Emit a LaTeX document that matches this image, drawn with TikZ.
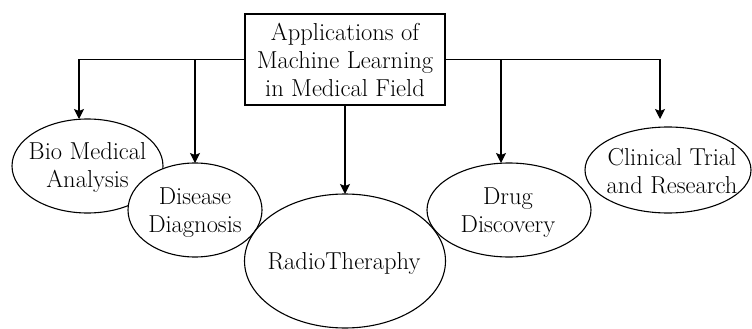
\documentclass[tikz,border=0pt]{standalone}
\usepackage{tikz}
\usetikzlibrary{shapes.geometric,arrows.meta,positioning}
\definecolor{MLInk} {HTML}{000000}
\definecolor{MLText}{HTML}{000000}

\begin{document}
\begin{tikzpicture}[x=1pt,y=-1pt,
    every node/.style={font=\fontsize{24.5}{28}\selectfont,text=MLText},
    rootbox/.style={draw=MLInk,line width=1.1pt,minimum width=200pt,minimum height=91pt,inner sep=0pt},
    oval/.style={draw=MLInk,line width=1.1pt,ellipse,inner sep=0pt,outer sep=0pt},
    ovaltext/.style={align=center,inner sep=0pt},
    arr/.style={draw=MLInk,line width=1.1pt,-{Stealth[length=10pt,width=10pt,inset=2pt]}}]
    \useasboundingbox (0,0) rectangle (752,329);

    % Ellipses
    \node[oval,fill=white,minimum width=151pt,minimum height=94pt]  (bio)  at (87.5,166) {};
    \node[oval,fill=white,minimum width=134pt,minimum height=94pt]  (dis)  at (195,210)  {};
    \node[oval,fill=white,minimum width=201pt,minimum height=134pt] (rad)  at (345,261)  {};
    \node[oval,minimum width=164pt,minimum height=94pt]  (drug) at (509,210)  {};
    \node[oval,minimum width=166pt,minimum height=86pt]  (clin) at (668,170)  {};

    \node[ovaltext] (biotxt)  at (87.5,167) {Bio Medical\\Analysis};
    \node[ovaltext] (distxt)  at (195,213)  {Disease\\Diagnosis};
    \node[ovaltext] (radtxt)  at (344,263)  {RadioTheraphy};
    \node[ovaltext] (drugtxt) at (508,213)  {Drug\\Discovery};
    \node[ovaltext] (clintxt) at (672,171)  {Clinical Trial\\and Research};

    % Root box
    \node[rootbox,fill=white,align=center] (app) at (345,59.5)
      {Applications of\\Machine Learning\\in Medical Field};

    % Connectors
    \draw[arr] (app.west) -| ([xshift=-8.5pt]bio.north);
    \draw[arr] (app.west -| dis.north) -- (dis.north);
    \draw[arr] (app.south) -- (rad.north);
    \draw[arr] (app.east -| drug.north) ++(-8pt,0) -- ([xshift=-8pt]drug.north);
    \draw[arr] (app.east) -| ([xshift=-8pt,yshift=8pt]clin.north);
  \end{tikzpicture}
\end{document}
